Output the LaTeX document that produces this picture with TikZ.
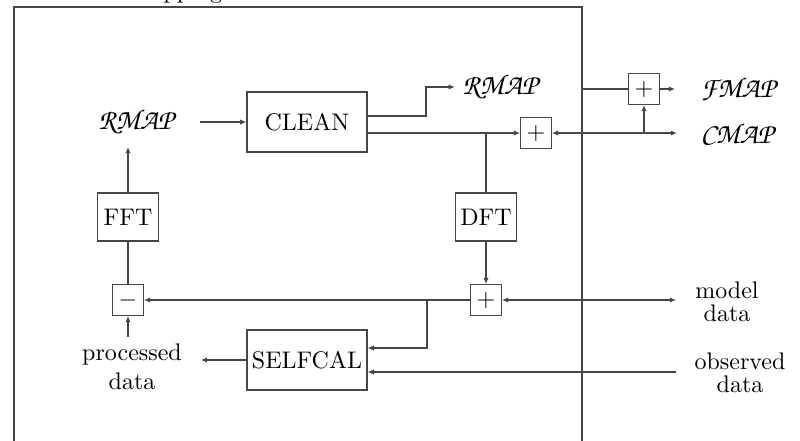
\documentclass[tikz,border=0pt]{standalone}
\usetikzlibrary{arrows.meta}
\newcommand\zcfont[1]{{\fontencoding{OT1}\fontfamily{pzc}\fontseries{mb}\fontshape{it}\fontsize{12}{14}\selectfont #1}}
\begin{document}
\begin{tikzpicture}[x=0.4167pt,y=-0.4167pt,
  ln/.style={draw=black!72, line width=0.45pt},
  arr/.style={ln,-{Latex[length=2.6pt,width=2.2pt]}},
  darr/.style={ln,{Latex[length=2.6pt,width=2.2pt]}-{Latex[length=2.6pt,width=2.2pt]}},
  bigbox/.style={draw=black!72, line width=0.45pt, minimum width=50pt, minimum height=25pt, inner sep=1pt},
  midbox/.style={draw=black!72, line width=0.45pt, minimum width=25.4pt, minimum height=20pt, inner sep=1pt},
  opbox/.style={draw=black!72, line width=0.45pt, minimum width=12.8pt, minimum height=12.8pt, inner sep=0pt},
  lbl/.style={align=center, inner sep=3pt}]
\useasboundingbox (0,0) rectangle (800,441);
\clip (0,0) rectangle (800,441);
% clipped title
\node[anchor=base west, inner sep=0pt] (title) at (131,-1.5) {mapping};
% frame
\draw[ln] (14,441) -- (14,7) -- (582,7) -- (582,441);
% nodes
\node[lbl] (rmapL) at (136,122) {\zcfont{RMAP}};
\node[bigbox] (clean) at (307,122) {CLEAN};
\node[lbl] (rmapR) at (500,87) {\zcfont{RMAP}};
\node[opbox] (plus1) at (536,133) {$+$};
\node[midbox] (dft) at (486,217) {DFT};
\node[midbox] (fft) at (128,217) {FFT};
\node[opbox] (plus2) at (486,300) {$+$};
\node[opbox] (minus) at (128,300) {$-$};
\node[bigbox] (selfcal) at (307,360) {SELFCAL};
\node[lbl] (proc) at (132,367) {processed\\data};
\node[lbl, font=\fontsize{10}{9.6}\selectfont] (model) at (727,302) {model\\data};
\node[lbl, font=\fontsize{10}{9.6}\selectfont] (obs) at (740,373) {observed\\data};
\node[opbox] (plus3) at (644,89) {$+$};
\node[lbl] (fmap) at (738,89) {\zcfont{FMAP}};
\node[lbl] (cmap) at (737,133) {\zcfont{CMAP}};
% coordinates
\coordinate (rmapLout) at (200,122);
\coordinate (rmapLin) at (128,147);
\coordinate (bend1) at (426,87);
\coordinate (j2) at (486,133);
\coordinate (j3) at (427,300);
\coordinate (modelEnd) at (676,300);
\coordinate (obsEnd) at (676,372);
\coordinate (procEnd) at (201,360);
\coordinate (procTop) at (128,337);
\coordinate (f1) at (582,89);
\coordinate (fmapEnd) at (675,89);
\coordinate (cmapEnd) at (677,133);
\coordinate (j4) at (644,133);
% connectors
\draw[arr] (rmapLout) -- (clean.west);
\draw[arr] ([yshift=2.5pt]clean.east) -| (bend1) -- (rmapR.west);
\draw[arr] (clean.east |- plus1.west) -- (plus1.west);
\draw[ln] (j2) -- (dft.north);
\draw[arr] (dft.south) -- (plus2.north);
\draw[arr] (plus2.west) -- (minus.east);
\draw[arr] (j3) |- ([yshift=5pt]selfcal.east);
\draw[darr] (plus2.east) -- (modelEnd);
\draw[arr] (obsEnd) -- (selfcal.east |- obsEnd);
\draw[arr] (selfcal.west) -- (procEnd);
\draw[arr] (procTop) -- (minus.south);
\draw[ln] (minus.north) -- (fft.south);
\draw[arr] (fft.north) -- (rmapLin);
\draw[ln] (f1) -- (plus3.west);
\draw[arr] (plus3.east) -- (fmapEnd);
\draw[darr] (plus1.east) -- (cmapEnd);
\draw[arr] (j4) -- (plus3.south);
\end{tikzpicture}
\end{document}
